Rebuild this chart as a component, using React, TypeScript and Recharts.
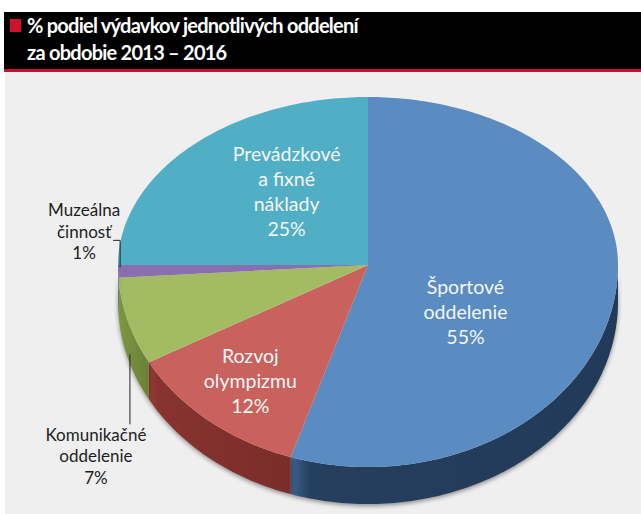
import React from 'react';
import { PieChart, Pie, Cell } from 'recharts';

// podiel výdavkov 2013 – 2016
const categories = [
  'Športové oddelenie',
  'Rozvoj olympizmu',
  'Komunikačné oddelenie',
  'Muzeálna činnosť',
  'Prevádzkové a fixné náklady',
];
const shares = [55, 12, 7, 1, 25];
const labelLines = [
  ['Športové', 'oddelenie'],
  ['Rozvoj', 'olympizmu'],
  ['Komunikačné', 'oddelenie'],
  ['Muzeálna', 'činnosť'],
  ['Prevádzkové', 'a fixné', 'náklady'],
];

const topColors = ['#5a8cc1', '#c9625c', '#a3bc64', '#8a6fae', '#50aec5'];
const wallColors = [
  ['#3d628e', '#263f5e', '#223a57'],
  ['#96403a', '#88332f', '#7a2d2a'],
  ['#8aa34e', '#7c9543', '#6c8038'],
  ['#6c5490', '#5e4880', '#54406f'],
  ['#3a8ea3', '#33809a', '#2c6f80'],
];

// label placement (relative to the point at midAngle)
const labelLayout = [
  { r: 0.5, dx: -26, dy: 31, inside: true },
  { r: 0.5, dx: -38, dy: 38, inside: true },
  { r: 1, dx: -32, dy: 134.5, inside: false, leader: [[2, 33], [2, 103]] },
  { r: 1, dx: -34, dy: -40, inside: false, leader: [[-5, -31], [2, -31], [2, -4]] },
  { r: 0.5, dx: 7, dy: -15, inside: true },
];

const data = categories.map((name, i) => ({ name, value: shares[i] }));

// perspective: back half flatter than front half
const RY_BACK = 168 / 250;
const RY_FRONT = 202 / 250;
const DEPTH = 37;
const RAD = Math.PI / 180;

const pt = (cx: number, cy: number, r: number, a: number) => {
  const s = Math.sin(a * RAD);
  return [cx + r * Math.cos(a * RAD), cy - (s > 0 ? RY_BACK : RY_FRONT) * r * s];
};

const arcPts = (cx: number, cy: number, r: number, from: number, to: number, dy = 0) => {
  const n = Math.max(2, Math.ceil(Math.abs(to - from)));
  const out: string[] = [];
  for (let i = 0; i <= n; i++) {
    const a = from + ((to - from) * i) / n;
    const [x, y] = pt(cx, cy, r, a);
    out.push(`${x.toFixed(2)},${(y + dy).toFixed(2)}`);
  }
  return out;
};

const Slice3D = (props: any) => {
  const { cx, cy, outerRadius: r, startAngle, endAngle, index } = props;
  const hi = Math.max(startAngle, endAngle);
  const lo = Math.min(startAngle, endAngle);
  const top = `M${cx},${cy} L${arcPts(cx, cy, r, startAngle, endAngle).join(' L')} Z`;

  const walls: string[] = [];
  [-360, 0, 360].forEach((off) => {
    const wlo = Math.max(lo, -180 + off);
    const whi = Math.min(hi, off);
    if (whi > wlo) {
      const upper = arcPts(cx, cy, r, whi, wlo);
      const lower = arcPts(cx, cy, r, wlo, whi, DEPTH);
      walls.push(`M${upper.join(' L')} L${lower.join(' L')} Z`);
    }
  });
  const gid = `wall-grad-${index}`;
  const wc = wallColors[index];
  return (
    <g>
      <defs>
        <linearGradient id={gid} x1="0" y1="0" x2="1" y2="0">
          <stop offset="0%" stopColor={wc[0]} />
          <stop offset="6%" stopColor={wc[1]} />
          <stop offset="100%" stopColor={wc[2]} />
        </linearGradient>
      </defs>
      {walls.map((d, k) => (
        <path
          key={k}
          d={d}
          fill={`url(#${gid})`}
          style={{ filter: 'drop-shadow(0px 2px 2px rgba(0,0,0,0.4))' }}
        />
      ))}
      <path d={top} fill={topColors[index]} />
    </g>
  );
};

const renderLabel = (props: any) => {
  const { cx, cy, midAngle, outerRadius, index } = props;
  const lay = labelLayout[index];
  const [ax, ay] = pt(cx, cy, outerRadius * lay.r, midAngle);
  const lines = [...labelLines[index], `${shares[index]}%`];
  const lh = lay.inside ? 25 : 21.5;
  const x = ax + lay.dx;
  const y0 = ay + lay.dy - ((lines.length - 1) * lh) / 2;
  return (
    <g key={`lbl-${index}`}>
      {lay.leader && (
        <polyline
          points={lay.leader.map(([dx, dy]) => `${ax + dx},${ay + dy}`).join(' ')}
          fill="none"
          stroke="#222"
          strokeWidth={1}
        />
      )}
      <text
        x={x}
        y={y0}
        textAnchor="middle"
        fill={lay.inside ? '#f4f6f8' : '#1e1e1e'}
        fontSize={lay.inside ? 19.5 : 17}
        fontFamily="Lato, sans-serif"
      >
        {lines.map((t, i) => (
          <tspan key={i} x={x} y={y0 + i * lh} dominantBaseline="central">
            {t}
          </tspan>
        ))}
      </text>
    </g>
  );
};

export default function App() {
  return (
    <div style={{ position: 'relative', width: 641, height: 514, background: '#fff', overflow: 'hidden' }}>
      <style>{'body{margin:0}'}</style>
      <div style={{ position: 'absolute', left: 5, top: 72, width: 636, height: 442, background: '#efefef' }} />
      <div
        style={{
          position: 'absolute',
          left: 4,
          top: 12,
          width: 637,
          height: 57,
          background: '#000',
          borderBottom: '3px solid #c8102e',
        }}
      >
        <div style={{ position: 'absolute', left: 6, top: 7, width: 11, height: 13, background: '#d0112b' }} />
        <div
          style={{
            position: 'absolute',
            left: 23,
            top: 0,
            color: '#fff',
            fontFamily: 'Lato, sans-serif',
            fontWeight: 700,
            fontSize: 20,
            letterSpacing: -0.75,
            lineHeight: '27px',
          }}
        >
          % podiel výdavkov jednotlivých oddelení
          <br />
          za obdobie 2013 – 2016
        </div>
      </div>
      <div style={{ position: 'absolute', left: 0, top: 0 }}>
        <PieChart width={641} height={514}>
          <Pie
            data={data}
            dataKey="value"
            nameKey="name"
            cx={363}
            cy={260}
            outerRadius={250}
            startAngle={90}
            endAngle={-270}
            stroke="none"
            isAnimationActive={false}
            shape={Slice3D}
            inactiveShape={Slice3D}
            activeShape={Slice3D}
            label={renderLabel}
            labelLine={false}
          >
            {data.map((d, i) => (
              <Cell key={d.name} fill={topColors[i]} />
            ))}
          </Pie>
        </PieChart>
      </div>
    </div>
  );
}
